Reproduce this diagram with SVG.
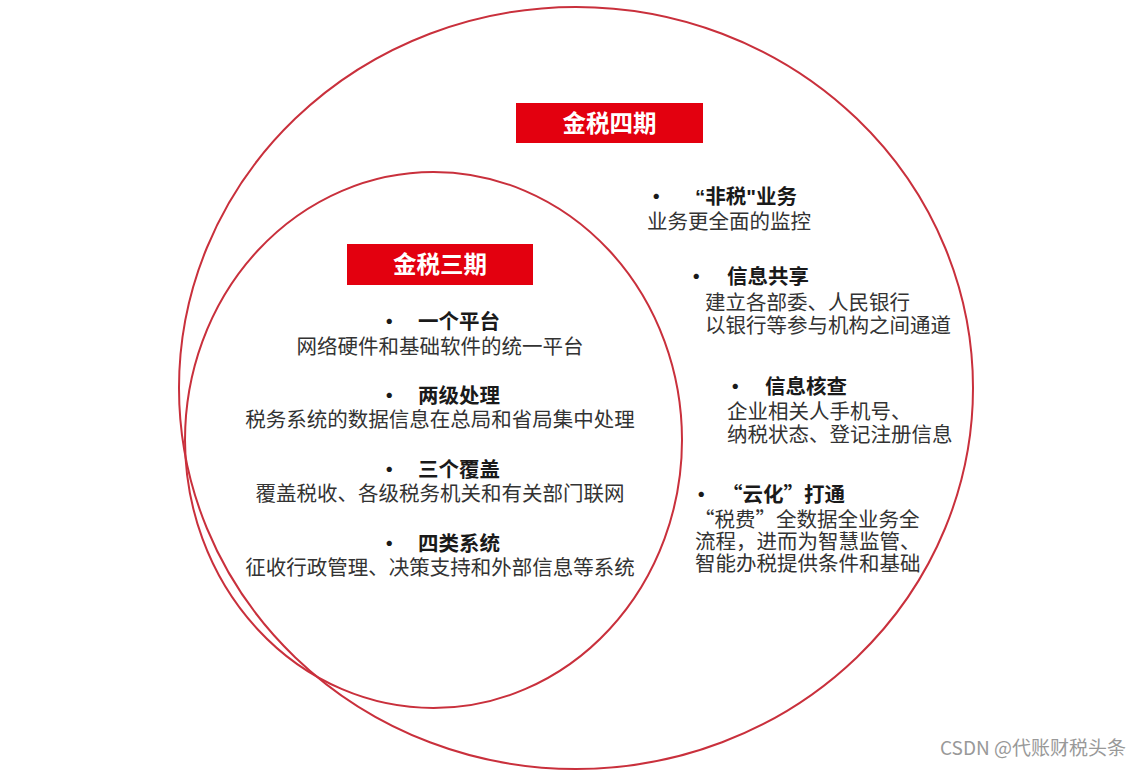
<svg xmlns="http://www.w3.org/2000/svg" width="1147" height="780" viewBox="0 0 1147 780">
<style>
.ring{fill:none;stroke:#c9303c;stroke-width:2}
.tag{fill:#e3000f}
.tagt{font-family:"Noto Sans CJK SC","Noto Sans",sans-serif;font-weight:bold;font-size:23.5px;fill:#fff;text-anchor:middle}
.h{font-family:"Noto Sans CJK SC","Noto Sans",sans-serif;font-weight:bold;font-size:20.5px;fill:#1a1a1a}
.b{font-family:"Noto Sans CJK SC","Noto Sans",sans-serif;font-size:20.5px;fill:#333}
.c{text-anchor:middle}
.q{font-family:"Liberation Sans",sans-serif}
.wm{font-family:"Noto Sans CJK SC","Liberation Sans",sans-serif;font-size:19px;fill:#999}
</style>
<rect width="1147" height="780" fill="#fff"/>
<g id="outer-circle"><ellipse class="ring" cx="576" cy="388" rx="397" ry="381"/></g>
<g id="inner-circle"><ellipse class="ring" cx="433.5" cy="440" rx="248.5" ry="268"/></g>
<g id="tag-4">
<rect class="tag" x="516" y="103" width="187" height="40"/>
<text class="tagt" x="609.5" y="131.5">金税四期</text>
</g>
<g id="tag-3">
<rect class="tag" x="347" y="244" width="186" height="41"/>
<text class="tagt" x="440" y="272.5">金税三期</text>
</g>
<g id="item-platform">
<text class="h" x="379" y="329">•</text>
<text class="h" x="418" y="329">一个平台</text>
<text class="b c" x="440" y="354">网络硬件和基础软件的统一平台</text>
</g>
<g id="item-two-level">
<text class="h" x="379" y="403">•</text>
<text class="h" x="418" y="403">两级处理</text>
<text class="b c" x="440" y="427">税务系统的数据信息在总局和省局集中处理</text>
</g>
<g id="item-three-cover">
<text class="h" x="379" y="477">•</text>
<text class="h" x="418" y="477">三个覆盖</text>
<text class="b c" x="440" y="501">覆盖税收、各级税务机关和有关部门联网</text>
</g>
<g id="item-four-systems">
<text class="h" x="379" y="551">•</text>
<text class="h" x="418" y="551">四类系统</text>
<text class="b c" x="440" y="575">征收行政管理、决策支持和外部信息等系统</text>
</g>
<g id="item-nontax">
<text class="h" x="646" y="204">•</text>
<text class="h" x="695" y="204"><tspan class="q">“</tspan>非税<tspan class="q">"</tspan>业务</text>
<text class="b" x="647" y="229">业务更全面的监控</text>
</g>
<g id="item-share">
<text class="h" x="686" y="284">•</text>
<text class="h" x="727" y="284">信息共享</text>
<text class="b" x="705" y="310">建立各部委、人民银行</text>
<text class="b" x="705" y="333">以银行等参与机构之间通道</text>
</g>
<g id="item-verify">
<text class="h" x="725" y="394">•</text>
<text class="h" x="765" y="394">信息核查</text>
<text class="b" x="727" y="419">企业相关人手机号、</text>
<text class="b" x="727" y="442">纳税状态、登记注册信息</text>
</g>
<g id="item-cloud">
<text class="h" x="691" y="502">•</text>
<text class="h" x="722" y="502">“云化”打通</text>
<text class="b" x="694" y="527">“税费”全数据全业务全</text>
<text class="b" x="695" y="549">流程，进而为智慧监管、</text>
<text class="b" x="695" y="571">智能办税提供条件和基础</text>
</g>
<g id="watermark"><text class="wm" x="940" y="755">CSDN @代账财税头条</text></g>
</svg>
